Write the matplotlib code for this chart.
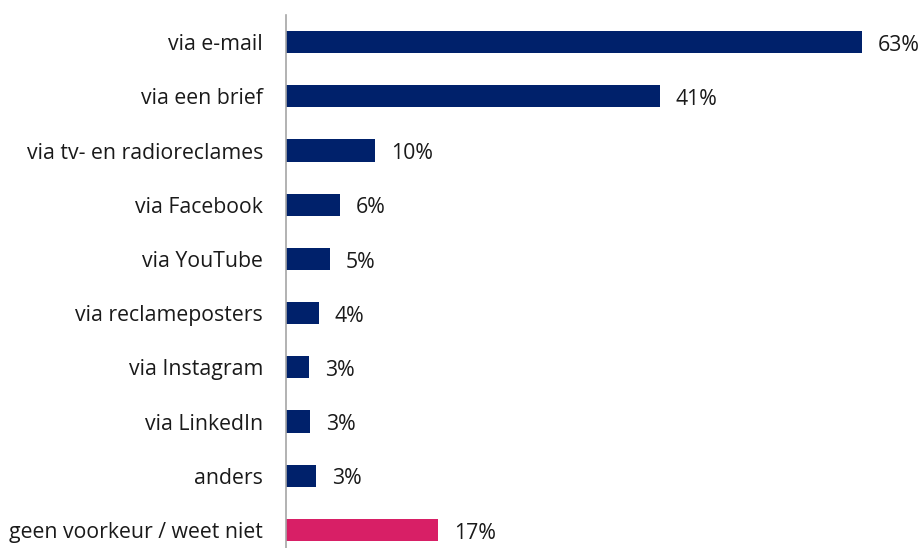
import matplotlib.pyplot as plt

plt.rcParams['font.family'] = ['Open Sans', 'DejaVu Sans']

categorieen = ["via e-mail", "via een brief", "via tv- en radioreclames", "via Facebook",
               "via YouTube", "via reclameposters", "via Instagram", "via LinkedIn",
               "anders", "geen voorkeur / weet niet"]
waarden = [63.0, 40.9, 9.7, 5.9, 4.8, 3.6, 2.55, 2.6, 3.25, 16.6]
kleuren = ["#00216B"] * 9 + ["#D81F66"]

fig = plt.figure(figsize=(9.23, 5.48), dpi=100)
ax = fig.add_axes([286 / 923, 1 - 557 / 548, 637 / 923, 542 / 548])

posities = list(range(len(categorieen)))
ax.barh(posities, waarden, height=0.41, color=kleuren)

for p, v in zip(posities, waarden):
    ax.text(v + 1.75, p + 0.06, f"{v:.0f}%", va="center", ha="left", fontsize=15.3, color="#1a1a1a")

ax.set_xlim(0, 637 / 9.138)
ax.set_ylim(9.5, -0.5)
ax.set_yticks(posities)
ax.set_yticklabels(categorieen, fontsize=15.3, color="#1a1a1a")
ax.tick_params(axis="y", length=0, pad=16.5)
ax.set_xticks([])

for s in ["top", "right", "bottom"]:
    ax.spines[s].set_visible(False)
ax.spines["left"].set_color("#A6A6A6")
ax.spines["left"].set_linewidth(1.2)

fig.savefig("out.png", dpi=100)
